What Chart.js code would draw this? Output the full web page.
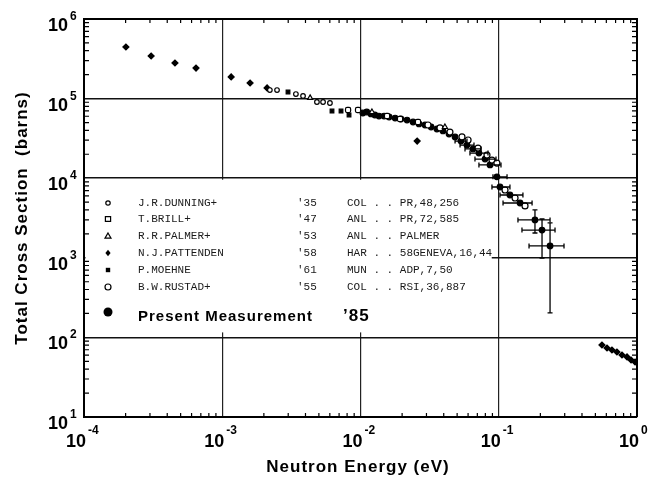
<!DOCTYPE html>
<html>
<head>
<meta charset="utf-8">
<title>Total Cross Section vs Neutron Energy</title>
<script src="https://cdn.jsdelivr.net/npm/chart.js@4.4.0/dist/chart.umd.min.js"></script>
<style>
  html, body { margin: 0; padding: 0; background: #fff; }
  #wrap { width: 650px; height: 480px; }
</style>
</head>
<body>
<div id="wrap"><canvas id="xsChart" width="650" height="480"></canvas></div>
<script>
// energies in eV, cross sections in barns
const dunningE = [0.00221, 0.00249, 0.00341, 0.00384, 0.00484, 0.00536, 0.00601];
const dunningSigma = [1.28e5, 1.28e5, 1.14e5, 1.08e5, 9.06e4, 9.06e4, 8.8e4];

const brillE = [0.00813, 0.0096, 0.01556, 0.01932, 0.02606];
const brillSigma = [7.19e4, 7.19e4, 6.04e4, 5.54e4, 5.08e4];

const palmerE = [0.00432, 0.0121, 0.0408];
const palmerSigma = [1.02e5, 6.79e4, 4.4e4];

const pattendenE = [0.000201, 0.000306, 0.000455, 0.000646, 0.00116, 0.00159, 0.00211, 0.0257,
  0.558, 0.607, 0.659, 0.716, 0.779, 0.847, 0.906, 0.968];
const pattendenSigma = [4.45e5, 3.43e5, 2.8e5, 2.42e5, 1.87e5, 1.57e5, 1.36e5, 2.93e4,
  80.3, 73.6, 69.5, 65.6, 60.1, 56.8, 52.0, 49.1];

const moehneE = [0.00299, 0.00622, 0.00723, 0.00826];
const moehneSigma = [1.21e5, 6.98e4, 6.98e4, 6.22e4];

const rustadE = [0.03076, 0.03758, 0.04436, 0.0542, 0.06, 0.0708, 0.0822, 0.0893, 0.097, 0.111, 0.1312, 0.1549];
const rustadSigma = [4.66e4, 4.28e4, 3.8e4, 3.3e4, 3.02e4, 2.39e4, 1.95e4, 1.69e4, 1.55e4, 7.11e3, 5.64e3, 4.48e3];

const presentE = [0.0104, 0.0111, 0.0119, 0.0127, 0.0136, 0.0148, 0.0161, 0.0178, 0.0196, 0.0217,
  0.024, 0.0265, 0.0293, 0.0324, 0.0357, 0.0395, 0.0437, 0.0483, 0.0533, 0.0589,
  0.0652, 0.0719, 0.0796, 0.0865, 0.097, 0.1021, 0.1205, 0.1426, 0.1828, 0.2056, 0.235];
const presentSigma = [6.59e4, 6.79e4, 6.41e4, 6.22e4, 6.04e4, 6.04e4, 5.87e4, 5.7e4, 5.54e4, 5.38e4,
  5.08e4, 4.8e4, 4.66e4, 4.4e4, 4.15e4, 3.92e4, 3.59e4, 3.3e4, 2.93e4, 2.61e4,
  2.33e4, 2.07e4, 1.74e4, 1.47e4, 1.04e4, 7.75e3, 6.15e3, 4.88e3, 2.99e3, 2.23e3, 1.41e3];
// error bar ends (null = no bar drawn)
const presentELo = [null, null, null, null, null, null, null, null, null, null,
  null, null, null, null, null, null, null, null, 0.0483, 0.0525,
  0.057, 0.0619, 0.0673, 0.0719, 0.0908, 0.0893, 0.1021, 0.1074, 0.1377, 0.1472, 0.1656];
const presentEHi = [null, null, null, null, null, null, null, null, null, null,
  null, null, null, null, null, null, null, null, 0.0589, 0.0662,
  0.0745, 0.0836, 0.0955, 0.1038, 0.1148, 0.1205, 0.1496, 0.1742, 0.235, 0.2553, 0.2965];
const presentSLo = [null, null, null, null, null, null, null, null, null, null,
  null, null, null, null, null, null, null, null, null, null,
  null, null, null, null, null, null, null, null, 2.05e3, 993, 203];
const presentSHi = [null, null, null, null, null, null, null, null, null, null,
  null, null, null, null, null, null, null, null, null, null,
  null, null, null, null, null, null, null, null, 3.99e3, 3.07e3, 2.74e3];

// legend table
const legendNames = ['J.R.DUNNING+', 'T.BRILL+', 'R.R.PALMER+', 'N.J.PATTENDEN', 'P.MOEHNE', 'B.W.RUSTAD+'];
const legendYears = ["'35", "'47", "'53", "'58", "'61", "'55"];
const legendRefs = ['COL . . PR,48,256', 'ANL . . PR,72,585', 'ANL . . PALMER', 'HAR . . 58GENEVA,16,44', 'MUN . . ADP,7,50', 'COL . . RSI,36,887'];
const legendSymbols = ['smallCircle', 'openSquare', 'triangle', 'diamond', 'square', 'circle'];

// axis tick exponents
const xTickExps = [-4, -3, -2, -1, 0];
const yTickExps = [1, 2, 3, 4, 5, 6];

function pts(xs, ys) {
  return xs.map((x, i) => ({ x: x, y: ys[i] }));
}

function isDecade(v) {
  const l = Math.log10(v);
  return Math.abs(l - Math.round(l)) < 1e-6;
}

function drawSymbol(ctx, kind, x, y) {
  ctx.save();
  ctx.lineWidth = 1.2;
  ctx.strokeStyle = '#000';
  ctx.fillStyle = '#000';
  ctx.beginPath();
  if (kind === 'smallCircle') {
    ctx.arc(x, y, 2.2, 0, Math.PI * 2);
    ctx.stroke();
  } else if (kind === 'circle') {
    ctx.arc(x, y, 3, 0, Math.PI * 2);
    ctx.stroke();
  } else if (kind === 'openSquare') {
    ctx.rect(x - 2.6, y - 2.4, 5.2, 4.8);
    ctx.stroke();
  } else if (kind === 'triangle') {
    ctx.moveTo(x, y - 3);
    ctx.lineTo(x + 3, y + 2.2);
    ctx.lineTo(x - 3, y + 2.2);
    ctx.closePath();
    ctx.stroke();
  } else if (kind === 'diamond') {
    ctx.moveTo(x, y - 3.2);
    ctx.lineTo(x + 2.6, y);
    ctx.lineTo(x, y + 3.2);
    ctx.lineTo(x - 2.6, y);
    ctx.closePath();
    ctx.fill();
  } else if (kind === 'square') {
    ctx.rect(x - 2.2, y - 2.2, 4.4, 4.4);
    ctx.fill();
  } else if (kind === 'dot') {
    ctx.arc(x, y, 4.5, 0, Math.PI * 2);
    ctx.fill();
  }
  ctx.restore();
}

const paperPlugin = {
  id: 'paper',
  beforeDatasetsDraw(chart) {
    const ctx = chart.ctx;
    const xs = chart.scales.x;
    const ys = chart.scales.y;
    const area = chart.chartArea;
    // white legend panel hiding the grid
    const top = ys.getPixelForValue(1e4) + 1.5;
    const bottom = ys.getPixelForValue(1e2) - 5;
    const right = xs.getPixelForValue(0.1) - 7;
    ctx.save();
    ctx.fillStyle = '#fff';
    ctx.fillRect(area.left + 1.5, top, right - area.left - 1.5, bottom - top);

    ctx.fillStyle = '#1a1a1a';
    ctx.font = '11px "Liberation Mono", "DejaVu Sans Mono", monospace';
    ctx.textBaseline = 'middle';
    ctx.textAlign = 'left';
    const rowY = [203, 219, 236, 253, 270, 287];
    legendNames.forEach((name, i) => {
      drawSymbol(ctx, legendSymbols[i], 108, rowY[i]);
      ctx.fillText(name, 138, rowY[i]);
      ctx.fillText(legendYears[i], 297, rowY[i]);
      ctx.fillText(legendRefs[i], 347, rowY[i]);
    });
    drawSymbol(ctx, 'dot', 108, 312);
    ctx.fillStyle = '#000';
    ctx.font = 'bold 15px "Liberation Sans", Arial, sans-serif';
    ctx.letterSpacing = '1px';
    ctx.fillText('Present Measurement', 138, 317);
    ctx.font = 'bold 17px "Liberation Sans", Arial, sans-serif';
    ctx.fillText('\u201985', 343, 316);
    ctx.letterSpacing = '0px';
    ctx.restore();
  },
  afterDatasetsDraw(chart) {
    // error bars on the present measurement
    const ctx = chart.ctx;
    const xs = chart.scales.x;
    const ys = chart.scales.y;
    ctx.save();
    ctx.strokeStyle = '#000';
    ctx.lineWidth = 1.3;
    presentE.forEach((e, i) => {
      const px = xs.getPixelForValue(e);
      const py = ys.getPixelForValue(presentSigma[i]);
      ctx.beginPath();
      if (presentELo[i] !== null) {
        const a = xs.getPixelForValue(presentELo[i]);
        const b = xs.getPixelForValue(presentEHi[i]);
        ctx.moveTo(a, py); ctx.lineTo(b, py);
        ctx.moveTo(a, py - 2.5); ctx.lineTo(a, py + 2.5);
        ctx.moveTo(b, py - 2.5); ctx.lineTo(b, py + 2.5);
      }
      if (presentSLo[i] !== null) {
        const a = ys.getPixelForValue(presentSLo[i]);
        const b = ys.getPixelForValue(presentSHi[i]);
        ctx.moveTo(px, a); ctx.lineTo(px, b);
        ctx.moveTo(px - 2.5, a); ctx.lineTo(px + 2.5, a);
        ctx.moveTo(px - 2.5, b); ctx.lineTo(px + 2.5, b);
      }
      ctx.stroke();
    });
    ctx.restore();
  },
  afterDraw(chart) {
    const ctx = chart.ctx;
    const xs = chart.scales.x;
    const ys = chart.scales.y;
    const a = chart.chartArea;
    ctx.save();
    ctx.strokeStyle = '#000';
    // top and right frame
    ctx.lineWidth = 2;
    ctx.beginPath();
    ctx.moveTo(a.left, a.top); ctx.lineTo(a.right, a.top); ctx.lineTo(a.right, a.bottom);
    ctx.stroke();

    // inward minor ticks on every side
    ctx.lineWidth = 1.2;
    ctx.beginPath();
    for (let d = 1; d < 6; d++) {
      for (let k = 2; k <= 9; k++) {
        const py = ys.getPixelForValue(k * Math.pow(10, d));
        ctx.moveTo(a.left, py); ctx.lineTo(a.left + 5, py);
        ctx.moveTo(a.right, py); ctx.lineTo(a.right - 5, py);
      }
    }
    for (let d = -4; d < 0; d++) {
      for (let k = 2; k <= 9; k++) {
        const px = xs.getPixelForValue(k * Math.pow(10, d));
        ctx.moveTo(px, a.bottom); ctx.lineTo(px, a.bottom - 4);
        ctx.moveTo(px, a.top); ctx.lineTo(px, a.top + 4);
      }
    }
    ctx.stroke();

    // tick labels: "10" with a raised exponent
    ctx.fillStyle = '#000';
    yTickExps.forEach(exp => {
      const py = ys.getPixelForValue(Math.pow(10, exp));
      ctx.font = 'bold 18px "Liberation Sans", Arial, sans-serif';
      const w = ctx.measureText('10').width;
      ctx.textAlign = 'left';
      ctx.textBaseline = 'alphabetic';
      ctx.fillText('10', 68 - w, py + 12);
      ctx.font = 'bold 12px "Liberation Sans", Arial, sans-serif';
      ctx.fillText(String(exp), 70, py + 1);
    });
    xTickExps.forEach(exp => {
      const px = xs.getPixelForValue(Math.pow(10, exp));
      ctx.font = 'bold 18px "Liberation Sans", Arial, sans-serif';
      const w = ctx.measureText('10').width;
      ctx.textAlign = 'left';
      ctx.textBaseline = 'alphabetic';
      ctx.fillText('10', px + 2 - w, 447);
      ctx.font = 'bold 12px "Liberation Sans", Arial, sans-serif';
      ctx.fillText(String(exp), px + 4, 434);
    });

    // axis titles
    ctx.font = 'bold 17px "Liberation Sans", Arial, sans-serif';
    ctx.letterSpacing = '1px';
    ctx.textAlign = 'center';
    ctx.textBaseline = 'middle';
    ctx.fillText('Neutron Energy (eV)', 358, 467);
    ctx.translate(22, 218);
    ctx.rotate(-Math.PI / 2);
    ctx.fillText('Total Cross Section  (barns)', 0, 0);
    ctx.restore();
  }
};

const markerBase = { showLine: false, borderColor: '#000', borderWidth: 1.2 };

const xsChart = new Chart(document.getElementById('xsChart'), {
  type: 'scatter',
  data: {
    datasets: [
      Object.assign({ label: 'J.R.DUNNING+', data: pts(dunningE, dunningSigma), pointStyle: 'circle', pointRadius: 2.3, backgroundColor: '#fff' }, markerBase),
      Object.assign({ label: 'T.BRILL+', data: pts(brillE, brillSigma), pointStyle: 'rectRounded', pointRadius: 3, backgroundColor: '#fff' }, markerBase),
      Object.assign({ label: 'R.R.PALMER+', data: pts(palmerE, palmerSigma), pointStyle: 'triangle', pointRadius: 3, backgroundColor: '#fff' }, markerBase),
      Object.assign({ label: 'B.W.RUSTAD+', data: pts(rustadE, rustadSigma), pointStyle: 'circle', pointRadius: 3, backgroundColor: '#fff' }, markerBase),
      Object.assign({ label: 'P.MOEHNE', data: pts(moehneE, moehneSigma), pointStyle: 'rect', pointRadius: 2.6, backgroundColor: '#000' }, markerBase),
      Object.assign({ label: 'N.J.PATTENDEN', data: pts(pattendenE, pattendenSigma), pointStyle: 'rectRot', pointRadius: 3, backgroundColor: '#000' }, markerBase),
      Object.assign({ label: 'Present Measurement', data: pts(presentE, presentSigma), pointStyle: 'circle', pointRadius: 2.8, backgroundColor: '#000' }, markerBase)
    ]
  },
  options: {
    responsive: false,
    animation: false,
    devicePixelRatio: 1,
    layout: { padding: { left: 84, top: 19, right: 13, bottom: 63 } },
    plugins: { legend: { display: false }, tooltip: { enabled: false } },
    scales: {
      x: {
        type: 'logarithmic',
        min: 1e-4,
        max: 1,
        ticks: { display: false },
        title: { display: false },
        border: { display: true, color: '#000', width: 2 },
        grid: {
          drawTicks: false,
          lineWidth: 1.2,
          color: c => (c.tick && isDecade(c.tick.value)) ? '#222' : 'rgba(0,0,0,0)'
        }
      },
      y: {
        type: 'logarithmic',
        min: 10,
        max: 1e6,
        ticks: { display: false },
        title: { display: false },
        border: { display: true, color: '#000', width: 2 },
        grid: {
          drawTicks: false,
          lineWidth: 1.6,
          color: c => (c.tick && isDecade(c.tick.value)) ? '#111' : 'rgba(0,0,0,0)'
        }
      }
    }
  },
  plugins: [paperPlugin]
});
</script>
</body>
</html>
